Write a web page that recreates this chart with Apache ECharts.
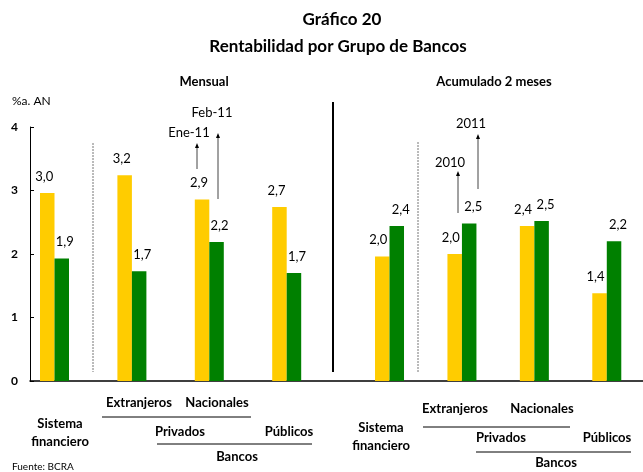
<!DOCTYPE html>
<html>
<head>
<meta charset="utf-8">
<script src="https://cdn.jsdelivr.net/npm/echarts@6/dist/echarts.min.js"></script>
<style>
html,body{margin:0;padding:0;background:#fff;}
#chart{width:643px;height:472px;}
</style>
</head>
<body>
<div id="chart"></div>
<script>
// ---- data ----
var groups = ['Sistema financiero', 'Extranjeros', 'Nacionales', 'Públicos'];
var mensualEne11 = [2.96, 3.24, 2.86, 2.74];
var mensualFeb11 = [1.93, 1.73, 2.19, 1.70];
var acum2010 = [1.96, 2.00, 2.44, 1.38];
var acum2011 = [2.44, 2.48, 2.52, 2.20];
var yTicks = [0, 1, 2, 3, 4];

var YELLOW = '#FFCC00', GREEN = '#008000';
var FONT = 'Lato, "Open Sans", sans-serif';
var TOP = 127, BOTTOM = 91;

function fmt(p){ return p.value.toFixed(1).replace('.', ','); }
function barSeries(name, data, color, xi, dx){
  return {
    name: name, type: 'bar', xAxisIndex: xi, yAxisIndex: xi, data: data,
    barWidth: 14.5, barGap: '0%',
    itemStyle: {color: color},
    label: {show: true, position: 'top', distance: 10, offset: [dx, 0],
      formatter: fmt, color: '#000', fontFamily: FONT, fontSize: 13}
  };
}
function txt(s, x, y, opt){
  opt = opt || {};
  return {type: 'text', x: x, y: y, silent: true, style: {
    text: s, fill: '#000', fontFamily: FONT,
    fontSize: opt.size || 13, fontWeight: opt.bold ? 'bold' : 'normal',
    textAlign: opt.align || 'center', textVerticalAlign: 'middle'}};
}
function line(x1, y1, x2, y2, opt){
  opt = opt || {};
  return {type: 'line', silent: true, shape: {x1: x1, y1: y1, x2: x2, y2: y2},
    style: {stroke: opt.color || '#000', lineWidth: opt.w || 1, lineDash: opt.dash || null}};
}
function arrow(x, y1, y2){
  return [line(x, y1, x, y2 + 4, {color: '#444'}),
    {type: 'polygon', silent: true, shape: {points: [[x - 2, y2 + 5], [x + 2, y2 + 5], [x, y2]]}, style: {fill: '#000'}}];
}

var chart = echarts.init(document.getElementById('chart'));
var hiddenX = function(gi){ return {type: 'category', gridIndex: gi, data: groups, show: false}; };
var hiddenY = function(gi){ return {type: 'value', gridIndex: gi, min: 0, max: 4, interval: 1, show: false}; };

var graphics = [
  txt('Gráfico 20', 342, 20, {bold: true, size: 17}),
  txt('Rentabilidad por Grupo de Bancos', 338, 47, {bold: true, size: 17}),
  txt('Mensual', 204, 82, {bold: true}),
  txt('Acumulado 2 meses', 494, 82, {bold: true}),
  txt('%a. AN', 12, 101, {align: 'left', size: 12}),
  line(93, 143, 93, 372, {color: '#777', dash: [2, 1]}),
  line(418, 142, 418, 372, {color: '#777', dash: [2, 1]}),
  line(333, 102, 333, 372, {w: 2}),
  txt('Ene-11', 189, 133),
  txt('Feb-11', 212, 113),
  txt('2010', 450, 163),
  txt('2011', 471, 124),
  // left hierarchy labels
  txt('Extranjeros', 139, 403, {bold: true}),
  txt('Nacionales', 217, 403, {bold: true}),
  line(102, 417, 251, 417),
  txt('Sistema', 60, 424, {bold: true}),
  txt('financiero', 60, 442, {bold: true}),
  txt('Privados', 180, 432, {bold: true}),
  txt('Públicos', 289, 432, {bold: true}),
  line(157, 444, 312, 444),
  txt('Bancos', 237, 457, {bold: true}),
  txt('Fuente: BCRA', 12, 467, {align: 'left', size: 10}),
  // right hierarchy labels
  txt('Extranjeros', 455, 409, {bold: true}),
  txt('Nacionales', 542, 409, {bold: true}),
  line(423, 427, 570, 427),
  txt('Sistema', 381, 428, {bold: true}),
  txt('financiero', 381, 446, {bold: true}),
  txt('Privados', 501, 438, {bold: true}),
  txt('Públicos', 607, 438, {bold: true}),
  line(476, 452, 631, 452),
  txt('Bancos', 556, 463, {bold: true})
];
graphics = graphics.concat(arrow(197, 169, 143), arrow(218, 199, 133), arrow(458, 213, 171), arrow(478, 189, 134));

chart.setOption({
  animation: false,
  backgroundColor: '#fff',
  grid: [
    {left: 30, right: 0, top: TOP, bottom: BOTTOM},
    {left: 15.8, width: 309.6, top: TOP, bottom: BOTTOM},
    {left: 353.3, width: 309.6, top: TOP, bottom: BOTTOM}
  ],
  xAxis: [
    {type: 'category', gridIndex: 0, data: [''], axisLine: {lineStyle: {color: '#000', width: 1.5}},
      axisTick: {show: false}, axisLabel: {show: false}},
    hiddenX(1), hiddenX(2)
  ],
  yAxis: [
    {type: 'value', gridIndex: 0, min: yTicks[0], max: yTicks[yTicks.length - 1], interval: 1,
      axisLine: {show: true, lineStyle: {color: '#000', width: 1}},
      axisTick: {show: true, inside: true, length: 4, lineStyle: {color: '#000'}},
      splitLine: {show: false},
      axisLabel: {color: '#000', fontFamily: FONT, fontWeight: 'bold', fontSize: 12, margin: 12}},
    hiddenY(1), hiddenY(2)
  ],
  series: [
    barSeries('Ene-11', mensualEne11, YELLOW, 1, -3),
    barSeries('Feb-11', mensualFeb11, GREEN, 1, 3),
    barSeries('2010', acum2010, YELLOW, 2, -4),
    barSeries('2011', acum2011, GREEN, 2, 4)
  ],
  graphic: graphics
});
</script>
</body>
</html>
